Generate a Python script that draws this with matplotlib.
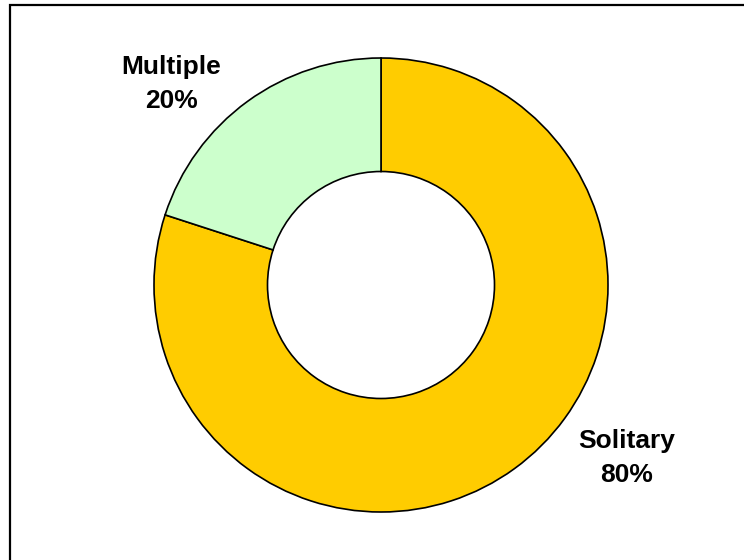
import matplotlib
matplotlib.use("Agg")
import matplotlib.pyplot as plt
from matplotlib.patches import Rectangle

categories = ["Solitary", "Multiple"]
values = [80, 20]
colors = ["#FFCC00", "#CCFFCC"]
pct_labels = ["80%", "20%"]

W, H = 744, 560
fig = plt.figure(figsize=(W / 100, H / 100), dpi=100)
ax = fig.add_axes([0, 0, 1, 1])
ax.set_xlim(0, W)
ax.set_ylim(0, H)
ax.set_aspect("equal")
ax.axis("off")

# outer frame (right and bottom edges run off the image)
ax.add_patch(Rectangle((10, -20), W + 20, H - 5 + 20, fill=False,
                       edgecolor="black", linewidth=1.6))

cx, cy, r = 381, H - 285, 227
ax.pie(values, colors=colors, startangle=90, counterclock=False,
       center=(cx, cy), radius=r, frame=True,
       wedgeprops=dict(width=r * 0.5, edgecolor="black", linewidth=1.2))
ax.set_xlim(0, W)
ax.set_ylim(0, H)
ax.axis("off")

font = dict(family=["Liberation Sans", "DejaVu Sans"], fontsize=19,
            fontweight="bold", ha="center", va="baseline")
label_pos = {"Solitary": (627, 448), "Multiple": (171, 74)}
for cat, pct in zip(categories, pct_labels):
    x, y = label_pos[cat]
    ax.text(x, H - y, cat, **font)
    ax.text(x, H - (y + 34), pct, **font)

fig.savefig("out.png", dpi=100)
